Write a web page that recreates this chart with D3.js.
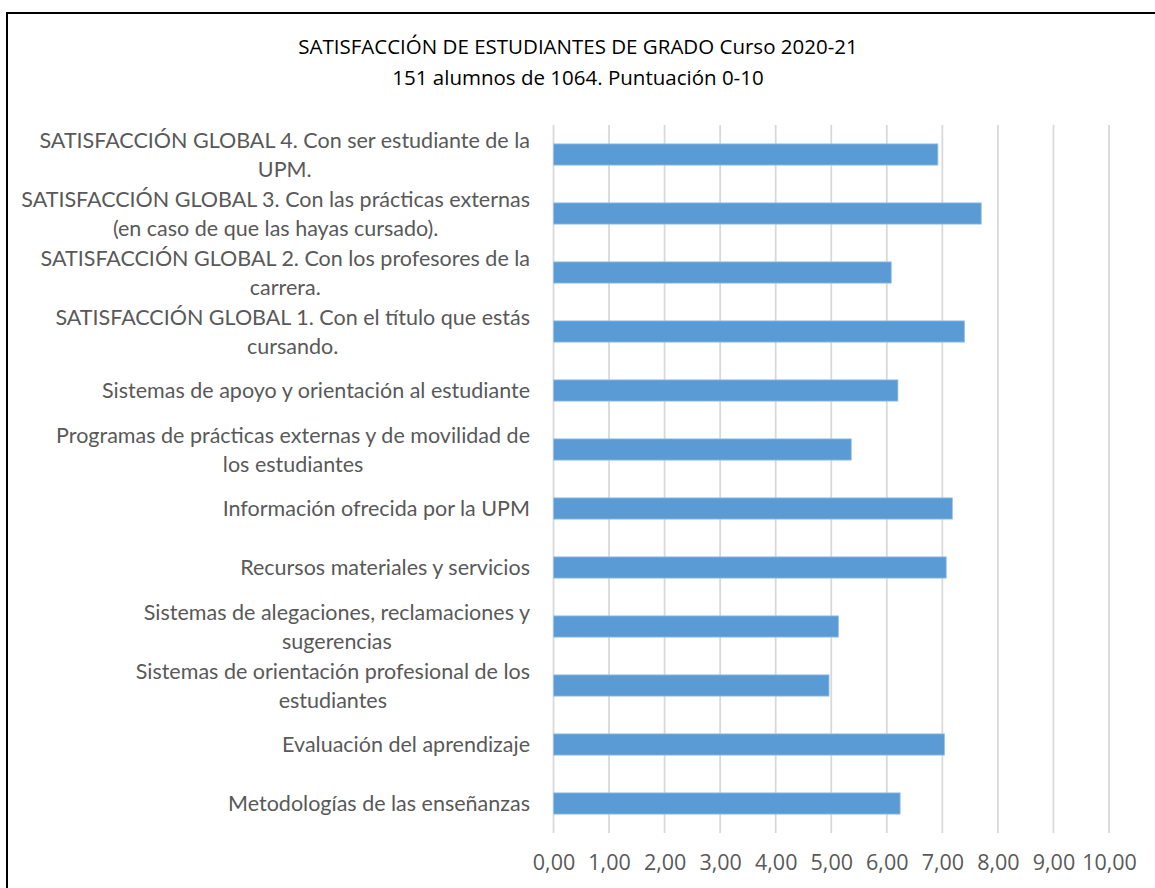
<!DOCTYPE html>
<html>
<head>
<meta charset="utf-8">
<script src="https://cdn.jsdelivr.net/npm/d3@7"></script>
<style>
  body { margin: 0; background: #fff; }
  text { font-family: "Open Sans", "Noto Sans", sans-serif; }
  .cat text { font-family: Lato, "Open Sans", sans-serif; }
</style>
</head>
<body>
<svg width="1155" height="888"></svg>
<script>
// Categories (top to bottom), with the line breaks seen in the picture
const categories = [
    "SATISFACCIÓN GLOBAL 4. Con ser estudiante de la\nUPM.",
    "SATISFACCIÓN GLOBAL 3. Con las prácticas externas\n(en caso de que las hayas cursado).",
    "SATISFACCIÓN GLOBAL 2. Con los profesores de la\ncarrera.",
    "SATISFACCIÓN GLOBAL 1. Con el título que estás\ncursando.",
    "Sistemas de apoyo y orientación al estudiante",
    "Programas de prácticas externas y de movilidad de\nlos estudiantes",
    "Información ofrecida por la UPM",
    "Recursos materiales y servicios",
    "Sistemas de alegaciones, reclamaciones y\nsugerencias",
    "Sistemas de orientación profesional de los\nestudiantes",
    "Evaluación del aprendizaje",
    "Metodologías de las enseñanzas"
];
const scores = [6.92, 7.70, 6.08, 7.40, 6.20, 5.36, 7.18, 7.07, 5.13, 4.96, 7.04, 6.24];
const tickValues = [0, 1, 2, 3, 4, 5, 6, 7, 8, 9, 10];
const titleLines = ["SATISFACCIÓN DE ESTUDIANTES DE GRADO Curso 2020-21", "151 alumnos de 1064. Puntuación 0-10"];

const svg = d3.select("svg");
const labelSize = 21.5;

// outer frame (cut off at right and bottom like the picture)
svg.append("rect")
    .attr("x", 7).attr("y", 13)
    .attr("width", 1200).attr("height", 900)
    .attr("fill", "none")
    .attr("stroke", "#000")
    .attr("stroke-width", 2);

// Title
svg.append("g").selectAll("text")
    .data(titleLines)
    .enter().append("text")
    .attr("x", 578)
    .attr("y", (d, i) => 54 + i * 31)
    .attr("text-anchor", "middle")
    .attr("font-size", 20.5)
    .attr("fill", "#000")
    .text(d => d);

// Scales
const x = d3.scaleLinear().domain([0, 10]).range([553.5, 1109]);
const y = d3.scaleBand()
    .domain(categories)
    .range([125, 833])
    .paddingInner(0.64)
    .paddingOuter(0.32);

const comma = d3.formatLocale({ decimal: ",", thousands: ".", grouping: [3], currency: ["", "€"] }).format(".2f");

// Gridlines
svg.append("g").selectAll("line")
    .data(tickValues)
    .enter().append("line")
    .attr("x1", d => x(d)).attr("x2", d => x(d))
    .attr("y1", 125).attr("y2", 833)
    .attr("stroke", "#d9d9d9")
    .attr("stroke-width", 1.8);

// X axis labels
const xAxis = svg.append("g")
    .attr("transform", "translate(0,862)")
    .call(d3.axisBottom(x).tickValues(tickValues).tickFormat(comma).tickSize(0).tickPadding(0));
xAxis.select(".domain").remove();
xAxis.selectAll("text")
    .attr("font-size", labelSize)
    .attr("fill", "#595959")
    .attr("dy", "0.35em")
    .style("font-family", "'Open Sans', 'Noto Sans', sans-serif");

// Bars
svg.append("g").selectAll("rect")
    .data(scores)
    .enter().append("rect")
    .attr("x", x(0))
    .attr("y", (d, i) => y(categories[i]))
    .attr("width", d => x(d) - x(0))
    .attr("height", y.bandwidth())
    .attr("fill", "#5b9bd5")
    .attr("stroke", "#9dc3e6")
    .attr("stroke-width", 0.8);

// Category labels: block right-aligned, lines centred inside block
const lineH = 29;
const labels = svg.append("g").attr("class", "cat").selectAll("g")
    .data(categories)
    .enter().append("g");

labels.each(function(cat) {
    const g = d3.select(this);
    const lines = cat.split("\n");
    const cy = y(cat) + y.bandwidth() / 2;
    const texts = g.selectAll("text")
        .data(lines)
        .enter().append("text")
        .attr("y", (d, i) => cy + (i - (lines.length - 1) / 2) * lineH)
        .attr("dy", "0.35em")
        .attr("font-size", labelSize)
        .attr("fill", "#595959")
        .attr("text-anchor", "middle")
        .text(d => d);
    let maxW = 0;
    texts.each(function() { maxW = Math.max(maxW, this.getComputedTextLength()); });
    texts.attr("x", 530 - maxW / 2);
});
</script>
</body>
</html>
